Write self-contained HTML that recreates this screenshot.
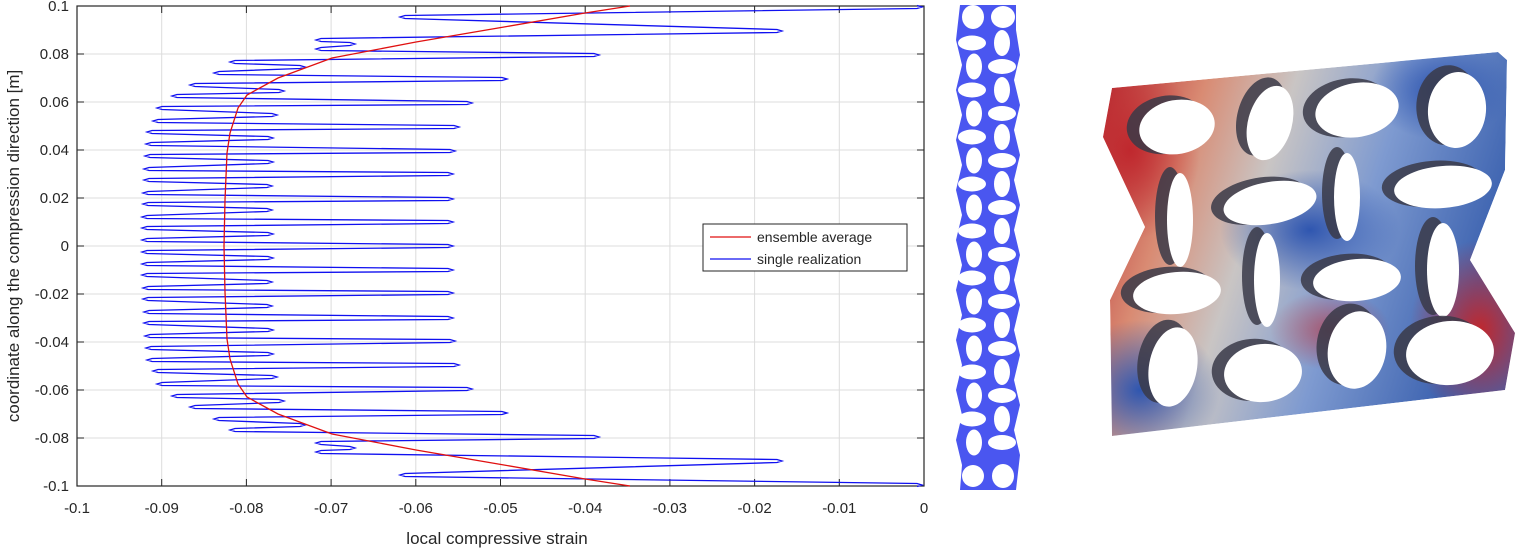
<!DOCTYPE html>
<html><head><meta charset="utf-8"><style>
html,body{margin:0;padding:0;background:#fff;}
svg{display:block;font-family:"Liberation Sans",Arial,sans-serif;}
</style></head><body>
<svg id="s" width="1520" height="549" viewBox="0 0 1520 549" xmlns="http://www.w3.org/2000/svg">
<defs>
<linearGradient id="g1" x1="0" y1="0" x2="1" y2="0.3">
<stop offset="0" stop-color="#b5202a"/><stop offset="0.25" stop-color="#d98b73"/><stop offset="0.45" stop-color="#c9c5c4"/><stop offset="0.7" stop-color="#7e9ad0"/><stop offset="1" stop-color="#3d63b0"/>
</linearGradient>
<radialGradient id="rb" cx="0.5" cy="0.5" r="0.5"><stop offset="0" stop-color="#2f56b0"/><stop offset="1" stop-color="#2f56b0" stop-opacity="0"/></radialGradient>
<radialGradient id="rr" cx="0.5" cy="0.5" r="0.5"><stop offset="0" stop-color="#c0282e"/><stop offset="1" stop-color="#c0282e" stop-opacity="0"/></radialGradient>
<clipPath id="cp"><polygon points="1112,88 1498,52 1507,60 1505,170 1470,260 1515,333 1505,390 1112,436 1110,300 1145,227 1103,137"/></clipPath>
</defs>
<g id="grid" stroke="#dcdcdc" stroke-width="1"></g>
<rect x="77" y="6" width="847" height="480" fill="none" stroke="#262626" stroke-width="1.2"/>
<g id="ticks" stroke="#262626" stroke-width="1"></g>
<g id="lbl" font-size="15" fill="#262626"></g>
<text x="497" y="544" font-size="17" text-anchor="middle" fill="#262626">local compressive strain</text>
<text transform="translate(19,246) rotate(-90)" font-size="17" text-anchor="middle" fill="#262626">coordinate along the compression direction [m]</text>
<polyline id="b1" fill="none" stroke="#1010f0" stroke-width="1.3"/>
<polyline id="red" fill="none" stroke="#e01010" stroke-width="1.3"/>
<rect x="703" y="224" width="204" height="47" fill="#fff" stroke="#262626" stroke-width="1"/>
<line x1="710" y1="237" x2="751" y2="237" stroke="#e01010" stroke-width="1.3"/>
<line x1="710" y1="259" x2="751" y2="259" stroke="#1010f0" stroke-width="1.3"/>
<text x="757" y="242" font-size="14" fill="#262626">ensemble average</text>
<text x="757" y="264" font-size="14" fill="#262626">single realization</text>
<g id="strip"></g>
<g clip-path="url(#cp)">
<polygon points="1112,88 1498,52 1507,60 1505,170 1470,260 1515,333 1505,390 1112,436 1110,300 1145,227 1103,137" fill="url(#g1)"/>
<ellipse cx="1130" cy="150" rx="70" ry="90" fill="url(#rr)"/>
<ellipse cx="1480" cy="330" rx="70" ry="90" fill="url(#rr)"/>
<ellipse cx="1310" cy="230" rx="90" ry="60" fill="url(#rb)"/>
<ellipse cx="1140" cy="390" rx="80" ry="70" fill="url(#rb)"/>
<ellipse cx="1440" cy="90" rx="70" ry="50" fill="url(#rb)"/>
<ellipse cx="1330" cy="330" rx="60" ry="40" fill="url(#rr)" opacity="0.6"/>
<g id="holes"></g>
</g>
</svg>
<script>
(function(){
const NS="http://www.w3.org/2000/svg";
function el(p,t,a,txt){const e=document.createElementNS(NS,t);for(const k in a)e.setAttribute(k,a[k]);if(txt!==undefined)e.textContent=txt;document.getElementById(p).appendChild(e);return e;}
for(let i=0;i<=10;i++){const x=77+84.7*i;
 if(i>0&&i<10)el('grid','line',{x1:x,y1:6,x2:x,y2:486});
 el('ticks','line',{x1:x,y1:486,x2:x,y2:479});el('ticks','line',{x1:x,y1:6,x2:x,y2:13});
 const lab=i==10?'0':(i==0?'-0.1':'-0.0'+(10-i));
 el('lbl','text',{x:x,y:513,'text-anchor':'middle'},lab);}
const yl=['0.1','0.08','0.06','0.04','0.02','0','-0.02','-0.04','-0.06','-0.08','-0.1'];
for(let i=0;i<=10;i++){const y=6+48*i;
 if(i>0&&i<10)el('grid','line',{x1:77,y1:y,x2:924,y2:y});
 el('ticks','line',{x1:77,y1:y,x2:84,y2:y});el('ticks','line',{x1:924,y1:y,x2:917,y2:y});
 el('lbl','text',{x:69,y:y+5,'text-anchor':'end'},yl[i]);}
const topPts=[[922,7],[400,17],[782,31],[316,40],[355,44],[316,49],[599,55],[230,62],[305,67],[214,73],[507,79],[190,85],[284,91],[172,96],[472,103],[157,108],[277,115],[153,121],[459,127],[147,132],[273,138],[146,144],[455,151],[145,156],[273,162],[144,169],[453,174],[144,180],[272,186],[143,193],[453,199],[143,204],[272,210],[142,217],[453,222],[142,228],[273,234],[142,240],[453,246]];
let pts=topPts.slice();for(let i=topPts.length-2;i>=0;i--)pts.push([topPts[i][0],492-topPts[i][1]]);
let lp=[];pts.forEach((p,i)=>{const r=(i%2==0);const d=r?-5:5;lp.push([p[0]+d,p[1]-1.5]);lp.push([p[0],p[1]]);lp.push([p[0]+d,p[1]+1.5]);});
document.getElementById('b1').setAttribute('points',lp.map(p=>p.join(',')).join(' '));
const rt=[[630,6],[585,13],[504,27],[416,42],[332,58],[278,78],[247,95],[238,108],[230,133],[227,153],[225,200],[224,246]];
let rp=rt.slice();for(let i=rt.length-2;i>=0;i--)rp.push([rt[i][0],492-rt[i][1]]);
document.getElementById('red').setAttribute('points',rp.map(p=>p.join(',')).join(' '));
el('strip','path',{d:'M960,5 L1016,5 L1016,30 L1020,55 L1014,80 L1020,105 L1014,130 L1020,155 L1014,180 L1020,205 L1014,230 L1020,255 L1014,280 L1020,305 L1014,330 L1020,355 L1014,380 L1020,405 L1014,430 L1020,455 L1016,490 L960,490 L962,465 L956,440 L962,415 L956,390 L962,365 L956,340 L962,315 L956,290 L962,265 L956,240 L962,215 L956,190 L962,165 L956,140 L962,115 L956,90 L962,65 L956,40 Z',fill:'#4a56f0'});
el('strip','ellipse',{cx:973,cy:17,rx:11,ry:12,fill:'#fff'});el('strip','ellipse',{cx:1003,cy:17,rx:12,ry:11,fill:'#fff'});
el('strip','ellipse',{cx:973,cy:476,rx:11,ry:11,fill:'#fff'});el('strip','ellipse',{cx:1003,cy:476,rx:11,ry:12,fill:'#fff'});
for(let k=0;k<19;k++){const y=43+k*23.5;if(y>462)break;const h=(k%2==0);
 el('strip','ellipse',{cx:h?972:974,cy:y,rx:h?14:8,ry:h?7.5:13,fill:'#fff'});
 el('strip','ellipse',{cx:1002,cy:y,rx:h?8:14,ry:h?13:7.5,fill:'#fff'});}
const H=[[1177,127,38,27,-10],[1270,123,22,38,15],[1357,110,42,27,-10],[1457,110,29,38,5],
[1180,220,13,47,0],[1270,203,47,21,-10],[1347,197,13,44,0],[1443,187,49,21,-5],
[1177,293,44,21,-5],[1267,280,13,47,0],[1357,280,44,21,-5],[1443,270,16,47,0],
[1173,367,24,40,10],[1263,373,39,29,-5],[1357,350,29,39,10],[1450,353,44,32,-5]];
H.forEach(h=>{el('holes','ellipse',{cx:h[0]-10,cy:h[1]-4,rx:h[2]+2,ry:h[3]+2,fill:'#3a3a48',transform:`rotate(${h[4]} ${h[0]} ${h[1]})`,opacity:0.85});
 el('holes','ellipse',{cx:h[0],cy:h[1],rx:h[2],ry:h[3],fill:'#fff',transform:`rotate(${h[4]} ${h[0]} ${h[1]})`});});
})();
</script>
</body></html>
